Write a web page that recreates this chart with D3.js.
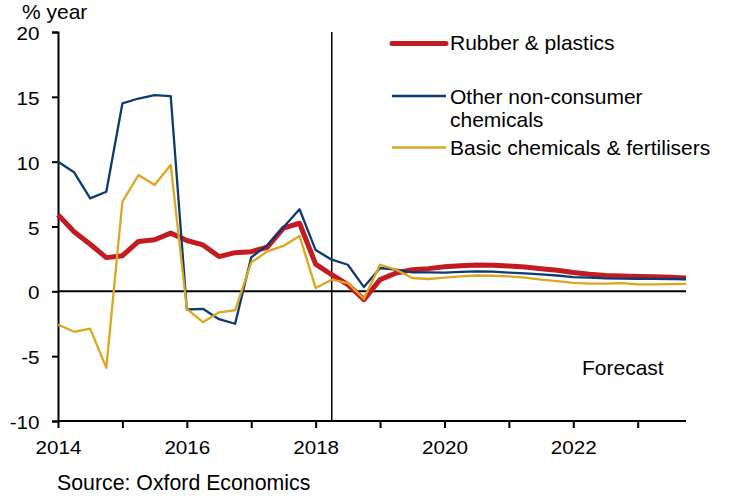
<!DOCTYPE html>
<html>
<head>
<meta charset="utf-8">
<script src="https://cdn.jsdelivr.net/npm/d3@7"></script>
<style>
  html, body { margin: 0; padding: 0; background: #fff; }
  svg { display: block; }
  text { font-family: "Liberation Sans", Arial, sans-serif; fill: #000; }
</style>
</head>
<body>
<svg id="chart" width="730" height="496"></svg>
<script>
// ---- data ----
const quarters = [
  "2014Q1","2014Q2","2014Q3","2014Q4","2015Q1","2015Q2","2015Q3","2015Q4",
  "2016Q1","2016Q2","2016Q3","2016Q4","2017Q1","2017Q2","2017Q3","2017Q4",
  "2018Q1","2018Q2","2018Q3","2018Q4","2019Q1","2019Q2","2019Q3","2019Q4",
  "2020Q1","2020Q2","2020Q3","2020Q4","2021Q1","2021Q2","2021Q3","2021Q4",
  "2022Q1","2022Q2","2022Q3","2022Q4","2023Q1","2023Q2","2023Q3","2023Q4"
];
const rubberPlastics = [
  5.9, 4.6, 3.63, 2.6, 2.75, 3.85, 3.98, 4.49,
  3.92, 3.58, 2.68, 2.98, 3.06, 3.4, 4.87, 5.25,
  2.1, 1.28, 0.52, -0.64, 0.9, 1.41, 1.67, 1.75,
  1.9, 1.98, 2.03, 2.02, 1.95, 1.88, 1.75, 1.62,
  1.45, 1.32, 1.22, 1.18, 1.15, 1.12, 1.08, 1.03
];
const otherNonConsumer = [
  10.0, 9.18, 7.17, 7.68, 14.49, 14.87, 15.13, 15.06,
  -1.4, -1.35, -2.15, -2.5, 2.62, 3.57, 4.95, 6.33,
  3.18, 2.44, 2.05, 0.33, 1.8, 1.67, 1.46, 1.46,
  1.45, 1.5, 1.54, 1.52, 1.45, 1.38, 1.3, 1.22,
  1.1, 1.05, 1.0, 0.98, 0.97, 0.96, 0.95, 0.95
];
const basicChemicals = [
  -2.56, -3.12, -2.88, -5.9, 6.92, 8.97, 8.2, 9.74,
  -1.35, -2.38, -1.62, -1.46, 2.23, 3.08, 3.5, 4.27,
  0.26, 0.9, 0.64, -0.58, 2.05, 1.67, 1.03, 0.95,
  1.05, 1.15, 1.22, 1.2, 1.15, 1.05, 0.9, 0.78,
  0.66, 0.6, 0.6, 0.64, 0.54, 0.54, 0.56, 0.57
];
const seriesNames = ["Rubber & plastics", "Other non-consumer chemicals", "Basic chemicals & fertilisers"];
const yTicks = [-10, -5, 0, 5, 10, 15, 20];
const xTickYears = [2014, 2015, 2016, 2017, 2018, 2019, 2020, 2021, 2022, 2023];
const xLabelYears = [2014, 2016, 2018, 2020, 2022];
const forecastStart = "2018Q2";

// ---- helpers ----
const qToYear = q => +q.slice(0, 4) + (+q.slice(5) - 1) / 4;
const SX = 1.18; // horizontal stretch of the tick label glyphs

const svg = d3.select("#chart");
const x = d3.scaleLinear().domain([2014, 2023.75]).range([58, 686]);
const y = d3.scaleLinear().domain([-10, 20]).range([421, 32]);

// zero line
svg.append("line")
  .attr("x1", x(2014)).attr("x2", x(2023.75))
  .attr("y1", y(0)).attr("y2", y(0))
  .attr("stroke", "#000").attr("stroke-width", 2);

// forecast divider
svg.append("line")
  .attr("x1", x(qToYear(forecastStart))).attr("x2", x(qToYear(forecastStart)))
  .attr("y1", y(20)).attr("y2", y(-10))
  .attr("stroke", "#000").attr("stroke-width", 1.5);

// y axis
const yAxis = svg.append("g")
  .attr("transform", `translate(${x(2014)},0)`)
  .call(d3.axisLeft(y).tickValues(yTicks).tickSize(6).tickPadding(12).tickFormat(d => String(d)));
yAxis.select(".domain").attr("stroke", "#000").attr("stroke-width", 2);
yAxis.selectAll(".tick line").attr("stroke", "#000").attr("stroke-width", 2);
yAxis.selectAll(".tick text")
  .attr("font-size", 17.5).attr("font-family", "Liberation Sans, Arial, sans-serif")
  .attr("x", -18.5 / SX)
  .attr("transform", `scale(${SX},1)`)
  .attr("dy", "0.43em").attr("fill", "#000");

// x axis
const xAxis = svg.append("g")
  .attr("transform", `translate(0,${y(-10)})`)
  .call(d3.axisBottom(x).tickValues(xTickYears).tickSize(7)
    .tickFormat(d => xLabelYears.includes(d) ? String(d) : ""));
xAxis.select(".domain").attr("stroke", "#000").attr("stroke-width", 2).attr("d", `M${x(2014)},0H${x(2023.75)}`);
xAxis.selectAll(".tick line").attr("stroke", "#000").attr("stroke-width", 2);
xAxis.selectAll(".tick text")
  .attr("font-size", 17.5).attr("font-family", "Liberation Sans, Arial, sans-serif")
  .attr("transform", `scale(${SX},1)`)
  .attr("y", 33).attr("dy", 0).attr("fill", "#000");

// lines
const line = d3.line().x((d, i) => x(qToYear(quarters[i]))).y(d => y(d));
const series = [
  { values: rubberPlastics, color: "#c41a22", width: 5 },
  { values: otherNonConsumer, color: "#0c3b73", width: 2.3 },
  { values: basicChemicals, color: "#dca61f", width: 2.3 }
];
series.forEach(s => {
  svg.append("path")
    .datum(s.values)
    .attr("d", line)
    .attr("fill", "none")
    .attr("stroke", s.color)
    .attr("stroke-width", s.width)
    .attr("stroke-linejoin", "round");
});

// legend
const legend = [
  { ly: 43.5, lines: [seriesNames[0]], ty: [50], s: series[0] },
  { ly: 96, lines: ["Other non-consumer", "chemicals"], ty: [103.5, 126.5], s: series[1] },
  { ly: 147.5, lines: [seriesNames[2]], ty: [154.5], s: series[2] }
];
legend.forEach(l => {
  svg.append("line")
    .attr("x1", 392).attr("x2", 446)
    .attr("y1", l.ly).attr("y2", l.ly)
    .attr("stroke", l.s.color).attr("stroke-width", l.s.width)
    .attr("stroke-linecap", l.s.width > 3 ? "round" : "butt");
  l.lines.forEach((t, i) => {
    svg.append("text").attr("x", 450).attr("y", l.ty[i])
      .attr("font-size", 21).text(t);
  });
});

// labels
svg.append("text").attr("x", 22).attr("y", 19).attr("font-size", 21).text("% year");
svg.append("text").attr("x", 582).attr("y", 375).attr("font-size", 21).text("Forecast");
svg.append("text").attr("x", 57).attr("y", 490).attr("font-size", 21.3).text("Source: Oxford Economics");
</script>
</body>
</html>
